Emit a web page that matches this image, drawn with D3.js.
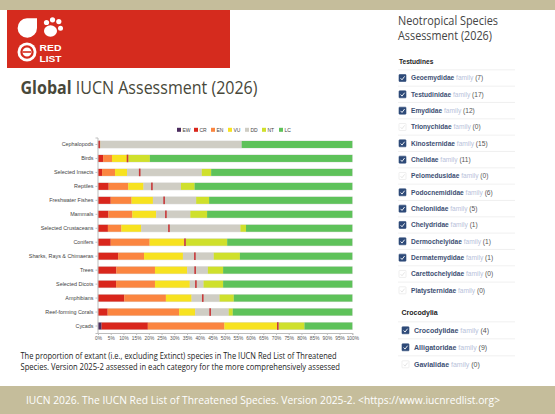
<!DOCTYPE html>
<html>
<head>
<meta charset="utf-8">
<script src="https://cdn.jsdelivr.net/npm/d3@7"></script>
<style>
  html, body { margin: 0; padding: 0; background: #fff; }
  svg { display: block; }
</style>
</head>
<body>
<svg id="slide" width="555" height="414"></svg>
<script>
// ---- Global chart data (percent of extant species per Red List category) ----
const categories = ["Cephalopods", "Birds", "Selected Insects", "Reptiles", "Freshwater Fishes",
  "Mammals", "Selected Crustaceans", "Conifers", "Sharks, Rays & Chimaeras", "Trees",
  "Selected Dicots", "Amphibians", "Reef-forming Corals", "Cycads"];
const statusCodes = ["EW", "CR", "EN", "VU", "DD", "NT", "LC"];
const EW = [0, 0, 0, 0, 0, 0, 0, 0, 0, 0, 0, 0, 0, 1.4];
const CR = [0.5, 2.0, 1.6, 4.2, 5.0, 4.1, 3.9, 5.0, 7.9, 7.2, 7.1, 10.3, 3.8, 18.2];
const EN = [0.2, 3.5, 5.1, 7.7, 8.2, 9.4, 5.3, 15.3, 10.2, 15.2, 15.3, 16.4, 28.1, 30.1];
const VU = [0.2, 5.9, 4.7, 6.0, 8.4, 9.4, 7.8, 13.6, 15.3, 12.7, 13.7, 10.1, 6.3, 20.7];
const DD = [55.6, 0.5, 29.4, 14.7, 17.0, 13.4, 39.0, 0.5, 12.1, 8.1, 5.4, 11.0, 13.2, 0.7];
const NT = [0, 8.5, 3.7, 5.4, 5.1, 6.6, 2.2, 16.4, 10.3, 6.0, 7.7, 5.6, 1.6, 10.1];
const LC = [43.5, 79.6, 55.5, 62.0, 56.3, 57.1, 41.8, 49.2, 44.2, 50.8, 50.8, 46.6, 47.0, 18.8];
// best estimate of the threatened share, drawn as a thin marker
const bestEstimate = [0.5, 11.6, 16.4, 21.2, 26.0, 26.7, 27.9, 34.2, 38.1, 38.2, 38.5, 41.2, 44.1, 70.7];
const tickValues = d3.range(0, 101, 5);

// ---- Neotropical family checklist ----
const testudinesFamilies = ["Geoemydidae", "Testudinidae", "Emydidae", "Trionychidae", "Kinosternidae",
  "Chelidae", "Pelomedusidae", "Podocnemididae", "Cheloniidae", "Chelydridae", "Dermochelyidae",
  "Dermatemydidae", "Carettochelyidae", "Platysternidae"];
const testudinesCounts = [7, 17, 12, 0, 15, 11, 0, 6, 5, 1, 1, 1, 0, 0];
const crocodyliaFamilies = ["Crocodylidae", "Alligatoridae", "Gavialidae"];
const crocodyliaCounts = [4, 9, 0];

const colors = {
  EW: "#4b2c5e", CR: "#d9261c", EN: "#fb8540", VU: "#f7e220",
  DD: "#cfcdc4", NT: "#cfe02c", LC: "#5ec25a"
};
const seriesValues = { EW, CR, EN, VU, DD, NT, LC };

const svg = d3.select("#slide");

// ---- slide frame ----
svg.append("rect").attr("x", 0).attr("y", 0).attr("width", 555).attr("height", 10).attr("fill", "#c5bd9b");
svg.append("rect").attr("x", 0).attr("y", 386).attr("width", 555).attr("height", 28).attr("fill", "#c5bd9b");
svg.append("text").attr("x", 26).attr("y", 403.5)
  .attr("font-family", "'Open Sans', sans-serif").attr("font-size", 10.6).attr("fill", "#fff")
  .attr("textLength", 474).attr("lengthAdjust", "spacingAndGlyphs")
  .text("IUCN 2026. The IUCN Red List of Threatened Species. Version 2025-2. <https://www.iucnredlist.org>");

// ---- Red List logo block ----
const logo = svg.append("g");
logo.append("rect").attr("x", 7).attr("y", 10).attr("width", 223).attr("height", 58).attr("fill", "#d52b1e");
logo.append("path").attr("d", "M27,18.3 L37,18.3 L37,28 A9.7,9.7 0 1 1 27,18.3 Z").attr("fill", "#fff");
[[46.5, 22.5, 2.6], [52.5, 19.8, 2.6], [58.8, 21.6, 2.6], [60.5, 28.2, 2.5]].forEach(([cx, cy, r]) =>
  logo.append("circle").attr("cx", cx).attr("cy", cy).attr("r", r).attr("fill", "#fff"));
logo.append("ellipse").attr("cx", 50.5).attr("cy", 31).attr("rx", 6.5).attr("ry", 5.8).attr("fill", "#fff");
logo.append("circle").attr("cx", 27).attr("cy", 52).attr("r", 9.5).attr("fill", "#fff");
logo.append("circle").attr("cx", 27).attr("cy", 52).attr("r", 5.6).attr("fill", "none")
  .attr("stroke", "#d52b1e").attr("stroke-width", 2.2);
logo.append("line").attr("x1", 22.5).attr("x2", 31).attr("y1", 52).attr("y2", 52)
  .attr("stroke", "#d52b1e").attr("stroke-width", 1.6);
logo.append("text").attr("x", 39.5).attr("y", 51).attr("font-family", "'Liberation Sans', Arial, sans-serif")
  .attr("font-weight", "bold").attr("font-size", 9.4).attr("fill", "#fff")
  .attr("textLength", 22).attr("lengthAdjust", "spacingAndGlyphs").text("RED");
logo.append("text").attr("x", 39.5).attr("y", 61.5).attr("font-family", "'Liberation Sans', Arial, sans-serif")
  .attr("font-weight", "bold").attr("font-size", 8.6).attr("fill", "#fff")
  .attr("textLength", 22).attr("lengthAdjust", "spacingAndGlyphs").text("LIST");

// ---- Title ----
const title = svg.append("text").attr("x", 20.5).attr("y", 94)
  .attr("font-family", "'Open Sans', sans-serif").attr("font-size", 17.5).attr("fill", "#48483a")
  .attr("textLength", 237).attr("lengthAdjust", "spacingAndGlyphs");
title.append("tspan").attr("font-weight", "bold").text("Global");
title.append("tspan").text(" IUCN Assessment (2026)");

// ---- Stacked bar chart ----
const x = d3.scaleLinear().domain([0, 100]).range([98, 352.3]);
const y = d3.scaleBand().domain(categories).range([137.5, 333]).paddingInner(0.5).paddingOuter(0.25);

const rows = categories.map((c, i) => {
  let acc = 0;
  const segs = statusCodes.map(code => {
    const v = seriesValues[code][i];
    const s = { code, x0: acc, x1: acc + v };
    acc += v;
    return s;
  });
  return { category: c, segs, marker: bestEstimate[i] };
});

const chart = svg.append("g");
const rowG = chart.selectAll("g.row").data(rows).join("g").attr("class", "row");

rowG.append("rect")
  .attr("x", x(0) - 0.5).attr("y", d => y(d.category) - 0.5)
  .attr("width", x(100) - x(0) + 1).attr("height", y.bandwidth() + 1)
  .attr("fill", "#e2e2e0");

rowG.selectAll("rect.seg").data(d => d.segs.filter(s => s.x1 > s.x0).map(s => ({ ...s, category: d.category })))
  .join("rect").attr("class", "seg")
  .attr("x", s => x(s.x0)).attr("y", s => y(s.category))
  .attr("width", s => x(s.x1) - x(s.x0)).attr("height", y.bandwidth())
  .attr("fill", s => colors[s.code]);

rowG.append("rect")
  .attr("x", d => x(d.marker) - 0.8).attr("y", d => y(d.category) - 0.3)
  .attr("width", 1.6).attr("height", y.bandwidth() + 0.6)
  .attr("fill", "#c8383a");

// category axis
const yAxis = chart.append("g").attr("transform", `translate(${x(0) - 0.5},0)`)
  .call(d3.axisLeft(y).tickSize(2).tickPadding(2));
yAxis.select(".domain").attr("stroke", "#bdbdbd");
yAxis.selectAll(".tick line").attr("stroke", "#bdbdbd");
yAxis.selectAll("text").attr("font-family", "'Liberation Sans', Arial, sans-serif")
  .attr("font-size", 5.4).attr("fill", "#444");

// percent axis
const xAxis = chart.append("g").attr("transform", "translate(0,333)")
  .call(d3.axisBottom(x).tickValues(tickValues).tickFormat(d => d + "%").tickSize(2).tickPadding(2));
xAxis.select(".domain").attr("stroke", "#bdbdbd");
xAxis.selectAll(".tick line").attr("stroke", "#bdbdbd");
xAxis.selectAll("text").attr("font-family", "'Liberation Sans', Arial, sans-serif")
  .attr("font-size", 4.8).attr("fill", "#555");

// legend
const legend = chart.append("g").attr("transform", "translate(177,130)");
const lg = legend.selectAll("g").data(statusCodes).join("g")
  .attr("transform", (d, i) => `translate(${i * 17},0)`);
lg.append("rect").attr("x", 0).attr("y", -2.2).attr("width", 4).attr("height", 4).attr("fill", d => colors[d]);
lg.append("text").attr("x", 5.5).attr("y", 1.8).attr("font-family", "'Liberation Sans', Arial, sans-serif")
  .attr("font-size", 5).attr("fill", "#444").text(d => d);

// caption
const caption = ["The proportion of extant (i.e., excluding Extinct) species in The IUCN Red List of Threatened",
  "Species. Version 2025-2 assessed in each category for the more comprehensively assessed"];
const capLens = [316, 319.5];
svg.selectAll("text.caption").data(caption).join("text").attr("class", "caption")
  .attr("x", 20.5).attr("y", (d, i) => 358.5 + i * 11.2)
  .attr("font-family", "'Open Sans', sans-serif").attr("font-size", 8.4).attr("fill", "#222")
  .attr("textLength", (d, i) => capLens[i]).attr("lengthAdjust", "spacingAndGlyphs")
  .text(d => d);

// ---- Neotropical panel ----
const panel = svg.append("g");
panel.append("text").attr("x", 398).attr("y", 24.5)
  .attr("font-family", "'Open Sans', sans-serif").attr("font-size", 12.6).attr("fill", "#444")
  .attr("textLength", 100).attr("lengthAdjust", "spacingAndGlyphs").text("Neotropical Species");
panel.append("text").attr("x", 398).attr("y", 40)
  .attr("font-family", "'Open Sans', sans-serif").attr("font-size", 12.6).attr("fill", "#444")
  .attr("textLength", 94).attr("lengthAdjust", "spacingAndGlyphs").text("Assessment (2026)");

function familyList(g, header, hx, hy, names, counts, x0, y0, step, fs) {
  g.append("text").attr("x", hx).attr("y", hy)
    .attr("font-family", "'Liberation Sans', Arial, sans-serif").attr("font-weight", "bold")
    .attr("font-size", fs).attr("fill", "#222").text(header);
  g.append("line").attr("x1", 398).attr("x2", 515).attr("y1", y0 - step / 2).attr("y2", y0 - step / 2)
    .attr("stroke", "#ececec").attr("stroke-width", 0.8);
  names.forEach((n, i) => {
    const cy = y0 + i * step;
    const checked = counts[i] > 0;
    if (i < names.length - 1) {
      g.append("line").attr("x1", 398).attr("x2", 515).attr("y1", cy + step / 2).attr("y2", cy + step / 2)
        .attr("stroke", "#ececec").attr("stroke-width", 0.8);
    }
    g.append("rect").attr("x", x0).attr("y", cy - 3.5).attr("width", 7).attr("height", 7).attr("rx", 0.6)
      .attr("fill", checked ? "#2e4a78" : "#fff").attr("stroke", checked ? "#2e4a78" : "#e4e4e4")
      .attr("stroke-width", 0.6);
    g.append("path").attr("d", `M${x0 + 1.6},${cy + 0.2} L${x0 + 3},${cy + 1.8} L${x0 + 5.6},${cy - 1.6}`)
      .attr("fill", "none").attr("stroke", checked ? "#fff" : "#e2e2e2").attr("stroke-width", 0.9);
    const t = g.append("text").attr("x", x0 + 12).attr("y", cy + 2.4)
      .attr("font-family", "'Liberation Sans', Arial, sans-serif").attr("font-size", fs);
    t.append("tspan").attr("font-weight", "bold").attr("fill", "#3d4f73").text(n);
    t.append("tspan").attr("fill", "#b8c2da").text("  family ");
    t.append("tspan").attr("fill", "#555").text("(" + counts[i] + ")");
  });
}
familyList(panel, "Testudines", 399, 64, testudinesFamilies, testudinesCounts, 399, 78, 16.33, 6.6);
familyList(panel, "Crocodylia", 401.5, 314.5, crocodyliaFamilies, crocodyliaCounts, 402, 330.3, 17, 7);
</script>
</body>
</html>
